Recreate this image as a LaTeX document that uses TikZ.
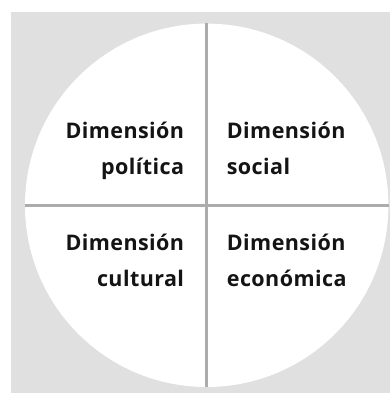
\documentclass[tikz,border=0pt]{standalone}
\usepackage{fontspec}
\setmainfont{Open Sans}[LetterSpace=2]
\usetikzlibrary{positioning}
\definecolor{bggray}{RGB}{224,224,224}
\definecolor{linegray}{RGB}{172,172,172}
\definecolor{inkblack}{RGB}{20,20,20}
\tikzset{
    disc/.style={
        circle, fill=white, draw=none,
        minimum size=363.4pt, inner sep=0pt
    },
    divider/.style={draw=linegray, line width=3pt},
    dimtext/.style={
        inner sep=0pt, text=inkblack,
        font=\fontsize{21.5}{36}\selectfont\bfseries
    },
    lefttext/.style={dimtext, align=right, anchor=base east},
    righttext/.style={dimtext, align=left, anchor=base west}
}
\begin{document}
\begin{tikzpicture}[x=1pt, y=1pt]
\useasboundingbox (0,0) rectangle (390,393);

% Background panel
\fill[bggray] (11,0) rectangle (390,381);

% Circle and its quadrants
\node[disc] (circ) at (206.7,187.7) {};
\draw[divider] (circ.north) -- (circ.south);
\draw[divider] (circ.west) -- (circ.east);

% Quadrant labels
\node[lefttext] (pol) at (184.3,218) {Dimensión\\política};
\node[righttext] (soc) at (226.7,218) {Dimensión\\social};
\node[lefttext] (cul) at (184.3,106.3) {Dimensión\\cultural};
\node[righttext] (eco) at (226.7,106.3) {Dimensión\\económica};

\end{tikzpicture}
\end{document}
